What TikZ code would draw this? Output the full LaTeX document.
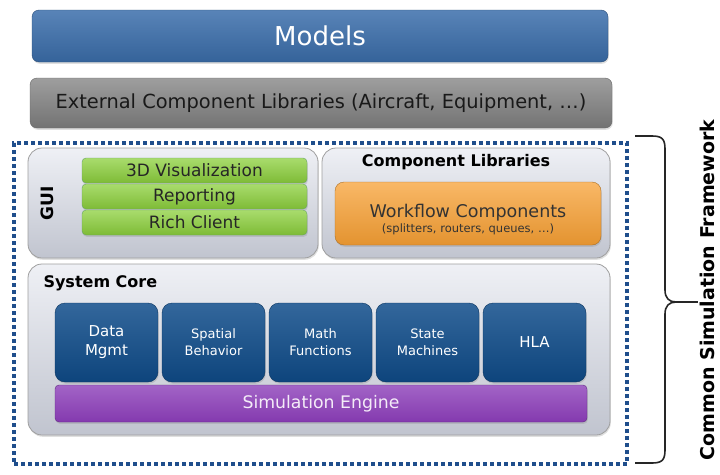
\documentclass[tikz,border=0pt]{standalone}
\usepackage{fontspec}
\setmainfont{DejaVu Sans}
\usepackage{xcolor}
\usepackage{tikz}
\usetikzlibrary{shadows}

\definecolor{modelblue}{HTML}{3B6EAB}
\definecolor{panelgray}{HTML}{D6DAE6}
\definecolor{framedot}{HTML}{1F4E8C}
\definecolor{coreblue}{HTML}{0F4C8A}
\definecolor{enginepurple}{HTML}{8B3DB8}
\definecolor{guigreen}{HTML}{8CD03C}
\definecolor{wforange}{HTML}{F7A034}

\begin{document}
\begin{tikzpicture}[x=1pt,y=-1pt,
  box/.style={rounded corners=7pt,minimum width=#1,inner sep=0pt,
    drop shadow={opacity=.25,shadow xshift=.8pt,shadow yshift=-1.8pt}},
  panel/.style={box=#1,rounded corners=14pt,draw=gray!75,line width=.8pt,
    top color=panelgray!40!white,bottom color=panelgray!90!black},
  guibox/.style={box=225pt,rounded corners=4pt,minimum height=25pt,draw=green!40!black!60,
    top color=guigreen!75!white,bottom color=guigreen!90!black,
    font=\fontsize{17}{19}\selectfont,text=black!85},
  corebox/.style={box=103pt,rounded corners=10pt,minimum height=79pt,draw=coreblue!70!black,
    top color=coreblue!85!white,bottom color=coreblue!90!black,text=white,align=center},
  title/.style={font=\bfseries\fontsize{16}{19}\selectfont,text=black}]
\useasboundingbox (0,0) rectangle (720,474);

% layers above the framework
\node[box=576pt,minimum height=52pt,draw=modelblue!70!black,
  top color=modelblue!85!white,bottom color=modelblue!90!black,
  text=white,font=\fontsize{26}{30}\selectfont] (models) at (320,36) {Models};
\node[box=582pt,minimum height=50pt,draw=black!60,
  top color=black!38,bottom color=black!55,
  text=black!90,font=\fontsize{19.4}{22}\selectfont] (extlib) at (321,103)
  {External Component Libraries (Aircraft, Equipment, \dots)};

% framework border
\node[draw=framedot,line width=3.5pt,dash pattern=on 4pt off 3pt,
  minimum width=613pt,minimum height=321pt,inner sep=0pt] (csf) at (320.5,303.5) {};

% GUI
\node[panel=290pt,minimum height=110pt] (gui) at (173,203) {};
\node[title,rotate=90,font=\bfseries\fontsize{17}{19}\selectfont] (guilabel) at (47,203) {GUI};
\node[guibox] (vis) at (194.5,170.5) {3D Visualization};
\node[guibox] (report) at (194.5,196.5) {Reporting};
\node[guibox] (rich) at (194.5,222.5) {Rich Client};

% component libraries
\node[panel=288pt,minimum height=110pt] (complib) at (466,203) {};
\node[title] (complabel) at (456,162) {Component Libraries};
\node[box=266pt,rounded corners=9pt,minimum height=63pt,draw=wforange!70!black,
  top color=wforange!75!white,bottom color=wforange!92!black,
  text=black!80,align=center] (workflow) at (468,213.5)
  {\fontsize{17.5}{20}\selectfont\rule{0pt}{25pt}Workflow Components\\[2pt]
   \fontsize{11.5}{13}\selectfont (splitters, routers, queues, \dots)};

% system core
\node[panel=582pt,minimum height=171pt] (core) at (319,349.5) {};
\node[title,anchor=west] (corelabel) at (40,283) {System Core};
\foreach \name/\txt/\fs/\bs [count=\i from 0] in
  {data/{Data\\Mgmt}/15/19, spatial/{Spatial\\Behavior}/13/17, math/{Math\\Functions}/13/17,
   state/{State\\Machines}/13/17, hla/HLA/15/19}
  \node[corebox,font=\fontsize{\fs}{\bs}\selectfont] (\name) at (106.5+107*\i,342.5) {\txt};
\node[box=532pt,rounded corners=4pt,minimum height=37pt,draw=enginepurple!70!black,
  top color=enginepurple!80!white,bottom color=enginepurple!95!black,
  text=white!90!enginepurple,font=\fontsize{17.3}{20}\selectfont] (engine) at (321,403.5)
  {Simulation Engine};

% brace with label
\coordinate (btop) at (635,136);
\coordinate (bbot) at (635,463);
\coordinate (btip) at (698,302);
\draw[line width=1.6pt,black!85,line join=round]
  (btop) -- (652,136) .. controls (662,136) and (665,139) .. (665,149)
  -- (665,290) .. controls (665,298) and (669,302) .. (676,302)
  .. controls (669,302) and (665,306) .. (665,314)
  -- (665,450) .. controls (665,460) and (662,463) .. (652,463) -- (bbot);
\draw[line width=1.6pt,black!85] (676,302) -- (btip);
\node[rotate=90,font=\bfseries\fontsize{19}{23}\selectfont,anchor=south,inner sep=1pt] (csflabel)
  at (716,290) {Common Simulation Framework};
\end{tikzpicture}
\end{document}
